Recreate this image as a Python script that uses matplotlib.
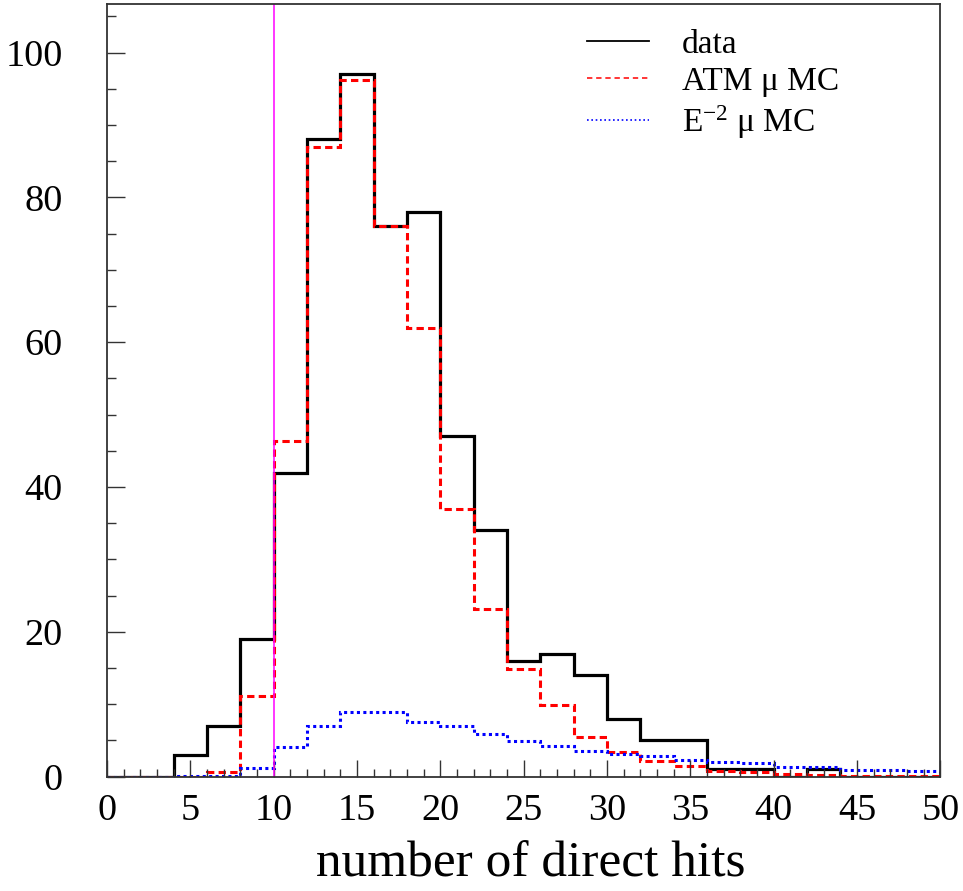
import numpy as np
import matplotlib
matplotlib.use("Agg")
import matplotlib.pyplot as plt
from matplotlib.lines import Line2D
from matplotlib.ticker import MultipleLocator

plt.rcParams["font.family"] = ["Liberation Serif", "DejaVu Serif"]
plt.rcParams["mathtext.default"] = "regular"

# histogram contents, 2-hit bins from 0 to 50
bin_edges = np.arange(0, 52, 2)
data_counts = [0, 0, 3, 7, 19, 42, 88, 97, 76, 78, 47, 34, 16, 17, 14, 8,
               5, 5, 1, 1, 0, 1, 0, 0, 0]
atm_mc = [0, 0, 0, 0.7, 11.2, 46.3, 87, 96.2, 76, 61.9, 36.9, 23.2, 14.9,
          9.9, 5.5, 3.4, 2.1, 1.5, 0.8, 0.6, 0.4, 0.3, 0.15, 0.15, 0.15]
e2_mc = [0, 0, 0.05, 0.15, 1.15, 4.05, 7.0, 8.9, 8.9, 7.5, 7.0, 5.9, 4.9,
         4.2, 3.5, 3.1, 2.8, 2.35, 2.0, 1.85, 1.4, 1.3, 0.97, 0.97, 0.73]
cut_value = 10
labels = ["data", "ATM μ MC", "E$^{-2}$ μ MC"]

fig = plt.figure(figsize=(9.63, 8.91), dpi=100)
ax = fig.add_axes([107 / 963, (891 - 776.7) / 891,
                   (940.3 - 107) / 963, (776.7 - 4) / 891])

ax.stairs(data_counts, bin_edges, color="black", lw=2.3)
ax.stairs(atm_mc, bin_edges, color="#ff0000", lw=2.2,
          linestyle=(0, (2.4, 1.4)))
ax.stairs(e2_mc, bin_edges, color="#0000ff", lw=2.2,
          linestyle=(0, (1, 1.1)))
ax.axvline(cut_value, color="#ff00ff", lw=1.1)

ax.set_xlim(0, 50)
ax.set_ylim(0, 106.7)
ax.xaxis.set_major_locator(MultipleLocator(5))
ax.xaxis.set_minor_locator(MultipleLocator(1))
ax.yaxis.set_major_locator(MultipleLocator(20))
ax.yaxis.set_minor_locator(MultipleLocator(5))
ax.tick_params(which="both", direction="in", top=False, right=False,
               color="#333333", width=1.0, labelsize=27.5)
ax.tick_params(axis="x", which="major", length=12.5, pad=12)
ax.tick_params(axis="x", which="minor", length=6)
ax.tick_params(axis="y", which="major", length=13, pad=32)
ax.tick_params(axis="y", which="minor", length=6.5)
for s in ax.spines.values():
    s.set_color("#333333"); s.set_linewidth(1.3)

ax.set_xlabel("number of direct hits", fontsize=37)
ax.xaxis.set_label_coords(0.509, -0.083)

handles = [Line2D([], [], color="black", lw=1.3),
           Line2D([], [], color="#ff0000", lw=1.1, linestyle=(0, (3.5, 2.5))),
           Line2D([], [], color="#0000ff", lw=1.2, linestyle=(0, (1, 1.6)))]
ax.legend(handles, labels, loc="upper left", bbox_to_anchor=(0.576, 0.967),
          frameon=False, fontsize=24, handlelength=1.85, handletextpad=1.0,
          labelspacing=0.19, borderpad=0, borderaxespad=0)

fig.savefig("out.png", dpi=100)
